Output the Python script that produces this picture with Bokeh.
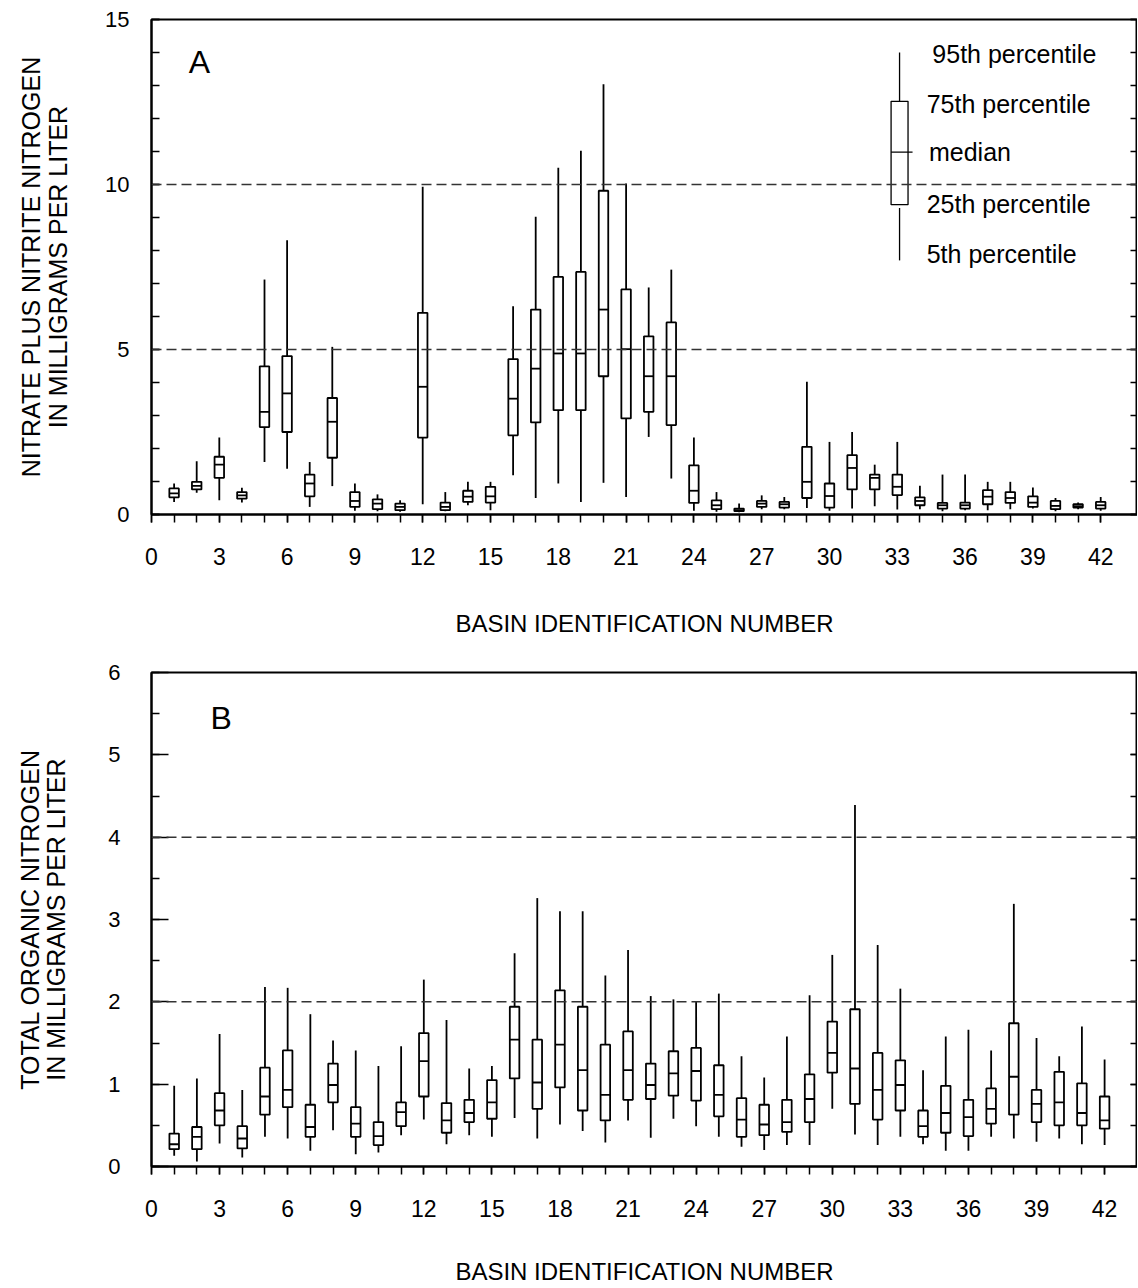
from bokeh.plotting import figure
from bokeh.models import SingleIntervalTicker, FixedTicker, LinearAxis, Span, Label, Range1d
from bokeh.layouts import column
from bokeh.embed import file_html
from bokeh.resources import INLINE
from bokeh.core.properties import value

FONT = "Liberation Sans"

basins = list(range(1, 43))
x_major_ticks = list(range(0, 43, 3))
x_minor_ticks = list(range(0, 43))

# Panel A: nitrate plus nitrite nitrogen, mg/L (5th, 25th, median, 75th, 95th percentiles)
a_p05 = [0.38, 0.66, 0.43, 0.36, 1.59, 1.39, 0.23, 0.86, 0.11, 0.10, 0.08, 0.31, 0.10, 0.28,
         0.13, 1.19, 0.50, 0.94, 0.38, 0.96, 0.53, 2.35, 1.09, 0.11, 0.08, 0.07, 0.16, 0.16,
         0.20, 0.11, 0.18, 0.25, 0.15, 0.16, 0.10, 0.13, 0.13, 0.16, 0.18, 0.10, 0.16, 0.11]
a_q1 = [0.52, 0.76, 1.11, 0.48, 2.65, 2.50, 0.55, 1.72, 0.23, 0.16, 0.13, 2.33, 0.13, 0.38,
        0.36, 2.40, 2.79, 3.16, 3.16, 4.19, 2.91, 3.11, 2.71, 0.35, 0.16, 0.10, 0.23, 0.21,
        0.50, 0.21, 0.76, 0.76, 0.59, 0.28, 0.18, 0.18, 0.31, 0.35, 0.23, 0.16, 0.21, 0.18]
a_med = [0.64, 0.87, 1.51, 0.58, 3.11, 3.67, 0.94, 2.81, 0.41, 0.33, 0.23, 3.87, 0.23, 0.54,
         0.55, 3.51, 4.42, 4.88, 4.88, 6.21, 5.01, 4.19, 4.19, 0.72, 0.28, 0.13, 0.33, 0.31,
         0.99, 0.56, 1.41, 1.11, 0.84, 0.41, 0.28, 0.28, 0.54, 0.50, 0.36, 0.26, 0.25, 0.28]
a_q3 = [0.79, 0.99, 1.75, 0.68, 4.49, 4.80, 1.21, 3.53, 0.68, 0.46, 0.33, 6.11, 0.36, 0.72,
        0.84, 4.71, 6.21, 7.20, 7.35, 9.81, 6.82, 5.40, 5.82, 1.49, 0.43, 0.18, 0.41, 0.38,
        2.05, 0.94, 1.80, 1.21, 1.21, 0.52, 0.35, 0.36, 0.74, 0.68, 0.55, 0.41, 0.31, 0.38]
a_p95 = [0.94, 1.61, 2.33, 0.81, 7.12, 8.31, 1.59, 5.08, 0.94, 0.61, 0.43, 9.93, 0.68, 0.99,
         0.99, 6.31, 9.02, 10.51, 11.02, 13.04, 10.03, 6.88, 7.42, 2.33, 0.68, 0.33, 0.58, 0.53,
         4.02, 2.20, 2.50, 1.51, 2.20, 0.87, 1.21, 1.21, 0.99, 0.99, 0.82, 0.50, 0.36, 0.53]

# Panel B: total organic nitrogen, mg/L
b_p05 = [0.13, 0.06, 0.28, 0.11, 0.36, 0.34, 0.19, 0.44, 0.15, 0.17, 0.38, 0.57, 0.27, 0.38,
         0.36, 0.59, 0.34, 0.51, 0.43, 0.29, 0.56, 0.35, 0.58, 0.49, 0.36, 0.24, 0.20, 0.26,
         0.26, 0.70, 0.39, 0.26, 0.36, 0.27, 0.19, 0.19, 0.36, 0.34, 0.30, 0.34, 0.27, 0.26]
b_q1 = [0.21, 0.21, 0.50, 0.22, 0.63, 0.72, 0.36, 0.78, 0.36, 0.26, 0.49, 0.85, 0.41, 0.54,
        0.58, 1.07, 0.70, 0.96, 0.68, 0.56, 0.81, 0.82, 0.86, 0.80, 0.61, 0.36, 0.38, 0.42,
        0.54, 1.14, 0.76, 0.57, 0.68, 0.36, 0.41, 0.37, 0.52, 0.63, 0.54, 0.50, 0.50, 0.46]
b_med = [0.27, 0.36, 0.68, 0.34, 0.85, 0.93, 0.48, 0.99, 0.52, 0.37, 0.66, 1.28, 0.56, 0.65,
         0.78, 1.54, 1.02, 1.48, 1.17, 0.87, 1.17, 0.99, 1.13, 1.16, 0.87, 0.57, 0.51, 0.54,
         0.82, 1.38, 1.19, 0.93, 0.99, 0.49, 0.65, 0.60, 0.70, 1.09, 0.76, 0.78, 0.65, 0.56]
b_q3 = [0.40, 0.48, 0.89, 0.49, 1.20, 1.41, 0.75, 1.25, 0.72, 0.54, 0.78, 1.62, 0.77, 0.81,
        1.05, 1.94, 1.54, 2.14, 1.94, 1.48, 1.64, 1.25, 1.40, 1.44, 1.23, 0.83, 0.75, 0.81,
        1.12, 1.76, 1.91, 1.38, 1.29, 0.68, 0.98, 0.81, 0.95, 1.74, 0.93, 1.15, 1.01, 0.85]
b_p95 = [0.98, 1.07, 1.61, 0.93, 2.18, 2.17, 1.85, 1.53, 1.41, 1.22, 1.46, 2.27, 1.78, 1.19,
         1.22, 2.59, 3.26, 3.10, 3.10, 2.32, 2.63, 2.07, 2.03, 2.00, 2.10, 1.34, 1.08, 1.58,
         2.08, 2.57, 4.39, 2.69, 2.16, 1.17, 1.58, 1.66, 1.41, 3.19, 1.56, 1.34, 1.70, 1.30]

# Reference lines
a_ref_lines = [5, 10]
b_ref_lines = [2, 4]

# Explanation (key) box in panel A
key_x = 33.1
key_values = [7.7, 9.39, 10.98, 12.52, 14.0]  # 5th, 25th, median, 75th, 95th
key_labels = ["5th percentile", "25th percentile", "median", "75th percentile", "95th percentile"]
key_label_x = [34.3, 34.3, 34.4, 34.3, 34.55]
key_label_y = [7.9, 9.42, 11.0, 12.45, 13.94]

BOX_W = 0.42
LW = 1.8
FIG_W = 1137


def make_panel(p05, q1, med, q3, p95, height, unit_px, y_end, y_interval, y_minor,
               border_left, border_top, border_bottom, ylabel, tag, tag_x, tag_y,
               left_major_in, left_minor_in, ytick_standoff, ylab_standoff, xlab_standoff,
               ref_lines):
    x_end = (FIG_W - border_left) / unit_px
    p = figure(width=FIG_W, height=height, output_backend="svg", toolbar_location=None,
               x_range=Range1d(0, x_end), y_range=Range1d(0, y_end),
               min_border_left=border_left, min_border_right=0,
               min_border_top=border_top, min_border_bottom=border_bottom)
    p.grid.visible = False
    p.outline_line_color = "black"
    p.outline_line_width = 2
    p.background_fill_color = "white"

    xa = p.xaxis[0]
    xa.ticker = FixedTicker(ticks=x_major_ticks, minor_ticks=x_minor_ticks)
    xa.major_tick_in = 0
    xa.major_tick_out = 8
    xa.minor_tick_in = 0
    xa.minor_tick_out = 8
    xa.major_tick_line_width = 1.5
    xa.minor_tick_line_width = 1.5
    xa.axis_line_width = 2
    xa.major_label_text_font = FONT
    xa.major_label_text_font_size = "23px"
    xa.major_label_text_color = "black"
    xa.major_label_standoff = 25
    xa.axis_label = "BASIN IDENTIFICATION NUMBER"
    xa.axis_label_text_font = FONT
    xa.axis_label_text_font_size = "24px"
    xa.axis_label_text_font_style = "normal"
    xa.axis_label_text_color = "black"
    xa.axis_label_standoff = xlab_standoff

    ya = p.yaxis[0]
    ya.ticker = SingleIntervalTicker(interval=y_interval, num_minor_ticks=y_minor)
    ya.major_tick_in = left_major_in
    ya.major_tick_out = 0
    ya.minor_tick_in = left_minor_in
    ya.minor_tick_out = 0
    ya.major_tick_line_width = 1.5
    ya.minor_tick_line_width = 1.5
    ya.axis_line_width = 2
    ya.major_label_text_font = FONT
    ya.major_label_text_font_size = "22px"
    ya.major_label_text_color = "black"
    ya.major_label_standoff = ytick_standoff
    ya.axis_label = ylabel
    ya.axis_label_text_font = FONT
    ya.axis_label_text_font_size = "25px"
    ya.axis_label_text_font_style = "normal"
    ya.axis_label_text_color = "black"
    ya.axis_label_text_line_height = 0.95
    ya.axis_label_standoff = ylab_standoff

    # right-hand inward ticks (no labels)
    ra = LinearAxis(ticker=SingleIntervalTicker(interval=y_interval, num_minor_ticks=y_minor),
                    major_tick_in=7, major_tick_out=0, minor_tick_in=7, minor_tick_out=0,
                    major_tick_line_width=1.5, minor_tick_line_width=1.5,
                    axis_line_color=None, major_label_text_color=None,
                    major_label_text_font_size="1px", major_label_standoff=0)
    p.add_layout(ra, "right")

    # whiskers
    p.segment(x0=basins, y0=q3, x1=basins, y1=p95, line_color="black", line_width=LW)
    p.segment(x0=basins, y0=p05, x1=basins, y1=q1, line_color="black", line_width=LW)
    # boxes
    p.vbar(x=basins, width=BOX_W, bottom=q1, top=q3, fill_color="white",
           line_color="black", line_width=LW)
    # medians
    p.segment(x0=[b - BOX_W / 2 for b in basins], y0=med,
              x1=[b + BOX_W / 2 for b in basins], y1=med, line_color="black", line_width=LW)

    for loc in ref_lines:
        p.add_layout(Span(location=loc, dimension="width", line_color="#333333",
                          line_width=1.5, line_dash="10 5"))

    p.add_layout(Label(x=tag_x, y=tag_y, text=tag, text_font=FONT, text_font_size="32px",
                       text_color="black", text_baseline="middle"))
    return p


pa = make_panel(a_p05, a_q1, a_med, a_q3, a_p95, height=652, unit_px=22.6, y_end=15,
                y_interval=5, y_minor=5, border_left=151, border_top=19, border_bottom=138,
                ylabel="NITRATE PLUS NITRITE NITROGEN\nIN MILLIGRAMS PER LITER",
                tag="A", tag_x=1.65, tag_y=13.71, left_major_in=8, left_minor_in=8,
                ytick_standoff=22, ylab_standoff=30, xlab_standoff=42, ref_lines=a_ref_lines)

# explanation key
kw = 0.75
pa.segment(x0=[key_x], y0=[key_values[3]], x1=[key_x], y1=[key_values[4]],
           line_color="black", line_width=1.3)
pa.segment(x0=[key_x], y0=[key_values[0]], x1=[key_x], y1=[key_values[1] - 0.1],
           line_color="black", line_width=1.3)
pa.vbar(x=[key_x], width=kw, bottom=[key_values[1]], top=[key_values[3]],
        fill_color="white", line_color="black", line_width=1.3)
pa.segment(x0=[key_x - kw / 2], y0=[key_values[2]], x1=[key_x + kw / 2 + 0.2],
           y1=[key_values[2]], line_color="black", line_width=1.3)
pa.text(x=key_label_x, y=key_label_y, text=key_labels, text_font=value(FONT),
        text_font_size="25px", text_color="black", text_baseline="middle", text_align="left")

pb = make_panel(b_p05, b_q1, b_med, b_q3, b_p95, height=635, unit_px=22.9, y_end=6,
                y_interval=1, y_minor=2, border_left=142, border_top=20, border_bottom=118,
                ylabel="TOTAL ORGANIC NITROGEN\nIN MILLIGRAMS PER LITER",
                tag="B", tag_x=2.6, tag_y=5.45, left_major_in=17, left_minor_in=8,
                ytick_standoff=31, ylab_standoff=35, xlab_standoff=38, ref_lines=b_ref_lines)

layout = column(pa, pb, spacing=0)
open("out.html", "w").write(file_html(layout, INLINE))
